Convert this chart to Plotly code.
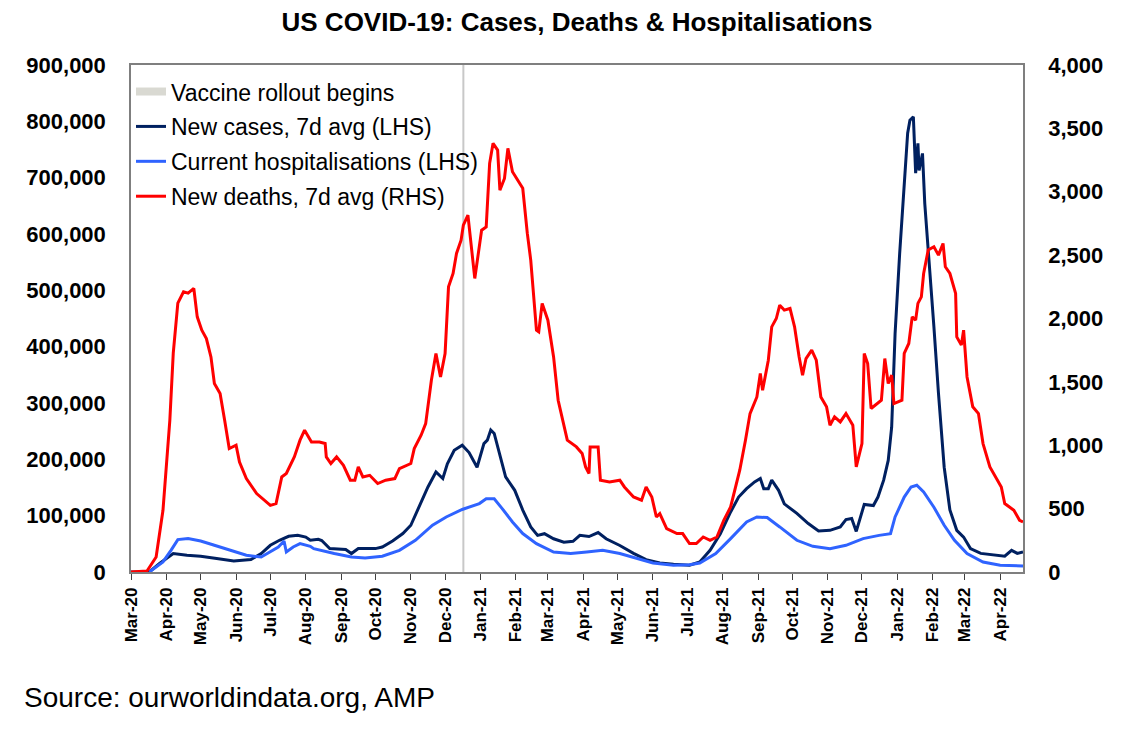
import plotly.graph_objects as go

# ---------------- data ----------------
case_dates = ["2020-03-01","2020-03-17","2020-03-26","2020-04-07","2020-04-19","2020-05-01","2020-05-15","2020-05-30",
"2020-06-14","2020-06-23","2020-07-01","2020-07-09","2020-07-17","2020-07-25","2020-08-01","2020-08-05","2020-08-12",
"2020-08-15","2020-08-22","2020-09-05","2020-09-10","2020-09-16","2020-10-01","2020-10-07","2020-10-16","2020-10-25",
"2020-11-01","2020-11-08","2020-11-16","2020-11-23","2020-11-29","2020-12-03","2020-12-09","2020-12-16","2020-12-22",
"2020-12-29","2021-01-04","2021-01-07","2021-01-10","2021-01-13","2021-01-19","2021-01-23","2021-01-31","2021-02-07",
"2021-02-14","2021-02-20","2021-02-26","2021-03-06","2021-03-15","2021-03-23","2021-03-29","2021-04-06","2021-04-14",
"2021-04-21","2021-05-03","2021-05-15","2021-05-26","2021-06-07","2021-06-19","2021-06-30","2021-07-03","2021-07-12",
"2021-07-21","2021-07-30","2021-08-08","2021-08-15","2021-08-22","2021-08-29","2021-09-03","2021-09-06","2021-09-10",
"2021-09-13","2021-09-19","2021-09-24","2021-10-05","2021-10-15","2021-10-24","2021-11-03","2021-11-12","2021-11-17",
"2021-11-22","2021-11-26","2021-12-01","2021-12-03","2021-12-11","2021-12-15","2021-12-20","2021-12-24","2021-12-27",
"2021-12-30","2022-01-03","2022-01-07","2022-01-10","2022-01-12","2022-01-15","2022-01-17","2022-01-19","2022-01-20",
"2022-01-23","2022-01-25","2022-01-28","2022-02-02","2022-02-06","2022-02-11","2022-02-16","2022-02-22","2022-02-28",
"2022-03-06","2022-03-15","2022-03-26","2022-04-05","2022-04-11","2022-04-16","2022-04-21"]
case_values = [0,0,15000,32700,29700,27900,23800,19500,
22000,32700,47400,56300,63400,65200,62000,56300,58000,
56000,41500,39800,32700,41500,41500,44400,55000,68200,
83000,115000,151000,177600,166000,192000,216000,225000,212000,
186000,228000,234000,252000,246000,198000,169000,145000,110000,
80000,65000,68000,59000,53000,54500,65000,63000,70000,
59000,47000,33000,22000,16000,13700,13000,12000,17800,
38500,68000,106600,133000,148000,160000,166000,148000,148000,
163000,145000,121000,104000,86000,73000,74000,80000,93000,
95000,72000,104000,120000,118000,133000,163000,198000,257000,
423000,565000,684000,779000,802000,808000,708000,761000,713000,
743000,654000,577000,435000,317000,186000,110000,74000,62000,
41500,33000,30000,28000,38500,33000,35500]

hosp_dates = ["2020-03-17","2020-03-29","2020-04-05","2020-04-11","2020-04-20","2020-05-01","2020-05-13","2020-05-27",
"2020-06-10","2020-06-23","2020-07-01","2020-07-08","2020-07-13","2020-07-15","2020-07-21","2020-07-27","2020-08-05",
"2020-08-08","2020-08-26","2020-09-10","2020-09-22","2020-10-07","2020-10-22","2020-11-05","2020-11-20","2020-12-02",
"2020-12-16","2020-12-31","2021-01-06","2021-01-13","2021-01-20","2021-01-29","2021-02-07","2021-02-19","2021-03-06",
"2021-03-21","2021-04-04","2021-04-18","2021-05-03","2021-05-18","2021-06-01","2021-06-19","2021-07-03","2021-07-12",
"2021-07-26","2021-08-08","2021-08-22","2021-08-31","2021-09-09","2021-09-20","2021-10-05","2021-10-19","2021-11-03",
"2021-11-17","2021-12-02","2021-12-16","2021-12-26","2021-12-30","2022-01-07","2022-01-13","2022-01-18","2022-01-24",
"2022-02-02","2022-02-11","2022-02-20","2022-03-03","2022-03-17","2022-04-01","2022-04-21"]
hosp_values = [0,17800,38500,57500,59300,55000,47400,38500,
29700,26600,35500,44400,55000,35500,44400,50400,45600,
41500,32700,26600,24900,27900,38500,56300,83000,97700,
111000,121500,130000,130000,112600,88800,68200,50400,35500,
32700,35500,38500,32700,23800,16000,11900,13000,16000,
32700,59300,88800,97700,96600,80000,56300,45600,41500,
47400,59300,65000,68000,97700,133000,151000,154000,142000,
115000,83000,56300,32700,17800,11900,10700]

death_dates = ["2020-03-01","2020-03-15","2020-03-23","2020-03-29","2020-04-04","2020-04-07","2020-04-11","2020-04-16",
"2020-04-20","2020-04-25","2020-04-28","2020-05-02","2020-05-06","2020-05-10","2020-05-13","2020-05-18","2020-05-22",
"2020-05-26","2020-06-01","2020-06-04","2020-06-10","2020-06-19","2020-07-01","2020-07-06","2020-07-11","2020-07-15",
"2020-07-22","2020-07-27","2020-07-31","2020-08-06","2020-08-13","2020-08-18","2020-08-19","2020-08-23","2020-08-28",
"2020-09-03","2020-09-09","2020-09-13","2020-09-16","2020-09-20","2020-09-26","2020-10-03","2020-10-10","2020-10-18",
"2020-10-22","2020-11-01","2020-11-04","2020-11-10","2020-11-14","2020-11-19","2020-11-23","2020-11-27","2020-12-01",
"2020-12-04","2020-12-08","2020-12-11","2020-12-15","2020-12-17","2020-12-21","2020-12-24","2020-12-27","2021-01-02",
"2021-01-06","2021-01-09","2021-01-12","2021-01-16","2021-01-18","2021-01-22","2021-01-25","2021-01-29","2021-02-03",
"2021-02-07","2021-02-11","2021-02-14","2021-02-19","2021-02-21","2021-02-24","2021-03-01","2021-03-06","2021-03-10",
"2021-03-18","2021-03-26","2021-03-31","2021-04-03","2021-04-06","2021-04-07","2021-04-14","2021-04-16","2021-04-24",
"2021-05-03","2021-05-07","2021-05-15","2021-05-22","2021-05-26","2021-05-31","2021-06-04","2021-06-07","2021-06-13",
"2021-06-22","2021-06-27","2021-07-03","2021-07-09","2021-07-15","2021-07-21","2021-07-27","2021-08-02","2021-08-08",
"2021-08-12","2021-08-16","2021-08-21","2021-08-25","2021-08-31","2021-09-03","2021-09-05","2021-09-10","2021-09-13",
"2021-09-17","2021-09-20","2021-09-24","2021-09-29","2021-10-03","2021-10-07","2021-10-10","2021-10-13","2021-10-18",
"2021-10-22","2021-10-26","2021-10-31","2021-11-03","2021-11-07","2021-11-12","2021-11-17","2021-11-23","2021-11-26",
"2021-12-01","2021-12-03","2021-12-06","2021-12-09","2021-12-14","2021-12-18","2021-12-21","2021-12-24","2021-12-27",
"2021-12-29","2022-01-05","2022-01-07","2022-01-11","2022-01-14","2022-01-17","2022-01-19","2022-01-22","2022-01-24",
"2022-01-28","2022-02-02","2022-02-06","2022-02-10","2022-02-12","2022-02-16","2022-02-21","2022-02-22","2022-02-26",
"2022-02-28","2022-03-03","2022-03-08","2022-03-13","2022-03-17","2022-03-23","2022-03-29","2022-04-02","2022-04-05",
"2022-04-13","2022-04-18","2022-04-21"]
death_values = [0,8,118,487,1197,1726,2121,2210,
2200,2237,2013,1908,1842,1697,1487,1408,1197,
974,1000,868,737,619,526,540,750,777,
908,1040,1119,1026,1026,1014,908,856,908,
842,724,724,829,750,763,698,724,737,
816,856,974,1079,1171,1513,1724,1539,1724,
2250,2355,2513,2618,2737,2816,2540,2316,2697,
2723,3224,3382,3329,3013,3105,3342,3158,3079,
3027,2671,2461,1908,1895,2119,1987,1697,1355,
1040,987,935,829,777,987,987,724,710,
724,671,592,566,671,592,434,461,343,
303,303,224,224,276,250,276,408,513,
671,803,1040,1250,1381,1566,1434,1671,1934,
2000,2105,2066,2079,1934,1697,1553,1684,1750,
1671,1381,1303,1158,1224,1184,1250,1158,829,
1013,1724,1645,1290,1329,1355,1684,1487,1553,
1329,1355,1724,1803,2013,1987,2119,2171,2355,
2540,2566,2500,2592,2408,2355,2198,1855,1790,
1908,1539,1303,1250,1013,829,737,671,540,
487,408,395]

vaccine_date = "2020-12-17"
x_range = ["2020-03-01", "2022-04-21"]
left_range = [0, 900000]
right_range = [0, 4000]

title_text = "US COVID-19: Cases, Deaths & Hospitalisations"
source_text = "Source: ourworldindata.org, AMP"
names = ["Vaccine rollout begins", "New cases, 7d avg (LHS)",
         "Current hospitalisations (LHS)", "New deaths, 7d avg (RHS)"]

# ---------------- figure ----------------
FONT = "Liberation Sans, Arial, sans-serif"
fig = go.Figure()

fig.add_trace(go.Scatter(x=[None], y=[None], mode="lines", name=names[0],
                         line=dict(color="#d9d9d2", width=8), legendgroup="a"))
fig.add_trace(go.Scatter(x=case_dates, y=case_values, mode="lines", name=names[1],
                         line=dict(color="#002060", width=3), legendgroup="b"))
fig.add_trace(go.Scatter(x=hosp_dates, y=hosp_values, mode="lines", name=names[2],
                         line=dict(color="#2f63ff", width=3), legendgroup="c"))
fig.add_trace(go.Scatter(x=death_dates, y=death_values, mode="lines", name=names[3],
                         line=dict(color="#ff0000", width=3), yaxis="y2", legendgroup="d"))

fig.add_shape(type="line", xref="x", yref="paper", x0=vaccine_date, x1=vaccine_date,
              y0=0, y1=1, line=dict(color="#c8c8c8", width=2), layer="below")

fig.add_annotation(text=source_text, xref="paper", yref="paper", x=-0.1222, y=-0.247,
                   xanchor="left", yanchor="middle", showarrow=False,
                   font=dict(family=FONT, size=28, color="black"))

fig.update_layout(
    width=1108, height=715,
    margin=dict(l=123, r=93, t=57, b=151),
    paper_bgcolor="white", plot_bgcolor="white",
    title=dict(text="<b>" + title_text + "</b>", x=0.5, xanchor="center", xref="paper",
               y=1.0, yref="container", yanchor="top", pad=dict(t=5, b=0),
               font=dict(family=FONT, size=26, color="black")),
    showlegend=True,
    legend=dict(x=0.0, y=0.99, xanchor="left", yanchor="top", bgcolor="rgba(0,0,0,0)",
                font=dict(family=FONT, size=23, color="black"), tracegroupgap=2,
                itemwidth=30),
    xaxis=dict(type="date", range=x_range, showgrid=False, showline=True, linecolor="#7f7f7f",
               linewidth=1.5, mirror=True, ticks="outside", ticklen=6, tickcolor="#404040",
               dtick="M1", tick0="2020-03-01", tickformat="%b-%y", tickangle=-90,
               tickfont=dict(family=FONT, size=17, color="black", weight="bold"),
               ticklabelstandoff=1),
    yaxis=dict(range=left_range, dtick=100000, tickformat=",", showgrid=False, zeroline=False,
               showline=True, linecolor="#7f7f7f", linewidth=1.5, ticks="",
               tickfont=dict(family=FONT, size=22, color="black", weight="bold"),
               ticklabelstandoff=19),
    yaxis2=dict(range=right_range, dtick=500, tickformat=",", overlaying="y", side="right",
                showgrid=False, zeroline=False, showline=True, linecolor="#7f7f7f", linewidth=1.5,
                ticks="", tickfont=dict(family=FONT, size=22, color="black", weight="bold"),
                ticklabelstandoff=19),
)

fig.write_html("out.html")
